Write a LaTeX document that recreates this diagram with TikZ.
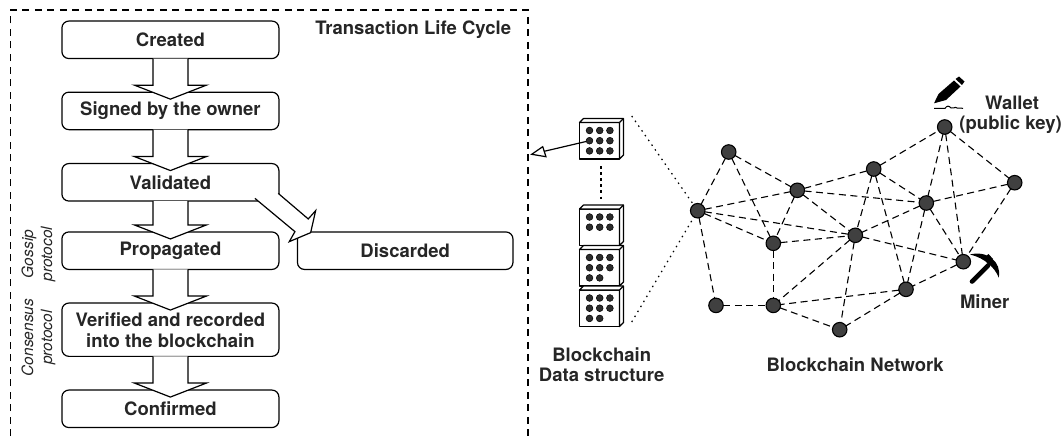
\documentclass[tikz,border=0pt]{standalone}
\usepackage{fontspec}
\setmainfont{TeX Gyre Heros}
\usetikzlibrary{calc}
\definecolor{txt}{HTML}{262626}
\definecolor{nodefill}{HTML}{404040}
\definecolor{dotfill}{HTML}{2c2c2c}
\tikzset{
  lifebox/.style={draw=black,fill=white,line width=1.2pt,rounded corners=7pt,minimum width=217pt,minimum height=37.5pt,inner sep=0pt,outer sep=0pt,font=\bfseries\fontsize{18.5}{21}\selectfont,text=txt,align=center},
  bigarrow/.style={draw=black,fill=white,line width=1.2pt,line join=miter},
  frameline/.style={draw=black,line width=1.1pt,dash pattern=on 7pt off 5.5pt},
  netedge/.style={draw=black,line width=1.1pt,dash pattern=on 7pt off 4.5pt},
  netnode/.style={circle,draw=black,fill=nodefill,line width=1.1pt,minimum size=14.5pt,inner sep=0pt,outer sep=0pt},
  dotline/.style={draw=black,line width=1.2pt,dash pattern=on 1.5pt off 4.3pt},
  label/.style={font=\bfseries\fontsize{18.5}{20}\selectfont,text=txt,align=center,inner sep=0pt},
  proto/.style={font=\itshape\fontsize{15.5}{19}\selectfont,text=txt,align=center,inner sep=0pt,rotate=90},
  blockface/.style={draw=black,fill=white,line width=1.2pt,line join=round},
  blockdot/.style={circle,fill=dotfill,draw=black,line width=.5pt,minimum size=6.8pt,inner sep=0pt,outer sep=0pt},
}
% block: name, left x, top y, number of dots
\newcommand{\chainblock}[4]{%
  \node[blockface,minimum width=40pt,minimum height=36.5pt,inner sep=0pt,outer sep=0pt,anchor=north west] (#1) at (#2,#3) {};
  \draw[blockface] (#1.north west) -- ++(4,-4) -- ++(40,0) -- ++(0,36.5) -- (#1.south east) -- (#1.north east) -- cycle;
  \draw[blockface] (#1.north east) -- ++(4,-4);
  \foreach \i [count=\c from 0] in {1,...,#4}{
    \pgfmathtruncatemacro{\cx}{mod(\c,3)}
    \pgfmathtruncatemacro{\cy}{int(\c/3)}
    \node[blockdot] (#1d\i) at ($(#1.north west)+(10+10.2*\cx,8+10.2*\cy)$) {};
  }
}
% vertical block arrow between two boxes
\newcommand{\flowarrow}[2]{%
  \draw[bigarrow] ($(#1.south)+(-17.5,0)$) -- ($(#2.north)+(-17.5,-7)$) -- ($(#2.north)+(-36,-7)$) -- ($(#2.north)+(0,7)$) -- ($(#2.north)+(36,-7)$) -- ($(#2.north)+(17.5,-7)$) -- ($(#1.south)+(17.5,0)$);
}
\begin{document}
\begin{tikzpicture}[x=1pt,y=-1pt]
\useasboundingbox (0,0) rectangle (1064,436);
\fill[white] (0,0) rectangle (1064,436);

% frame
\coordinate (fbl) at (10.8,436);
\coordinate (ftl) at (10.8,10);
\coordinate (ftr) at (528,10);
\coordinate (fbr) at (528,436);
\draw[frameline] (fbl) -- (ftl) -- (ftr) -- (fbr);

% life cycle boxes
\node[lifebox] (created) at (170.4,39.8) {Created};
\node[lifebox] (signed) at (170.4,110.9) {Signed by the owner};
\node[lifebox] (validated) at (170.4,182.3) {Validated};
\node[lifebox] (propagated) at (170.4,250.7) {Propagated};
\node[lifebox,minimum height=53.3pt] (verified) at (170.4,329.7) {Verified and recorded\\into the blockchain};
\node[lifebox] (confirmed) at (170.4,408.8) {Confirmed};
\node[lifebox,minimum width=215.5pt] (discarded) at (405.2,250.7) {Discarded};

\flowarrow{created}{signed}
\flowarrow{signed}{validated}
\flowarrow{validated}{propagated}
\flowarrow{propagated}{verified}
\flowarrow{verified}{confirmed}
\draw[bigarrow] ($(validated.south east)+(-0.7,-7.7)$) -- ($(discarded.north west)+(10.8,-13)$) -- ($(discarded.north west)+(18.2,-21.3)$) -- ($(discarded.north west)+(13.2,0.7)$) -- ($(discarded.north west)+(-8.2,9.7)$) -- ($(discarded.north west)+(-2.5,-0.3)$) -- ($(validated.south east)+(-24,-2.7)$);

\node[label] (title) at (413.2,29.4) {Transaction Life Cycle};
\node[proto] (gossip) at (38.5,254) {Gossip\\protocol};
\node[proto] (consensus) at (38.5,337.5) {Consensus\\protocol};

% chain
\chainblock{bA}{579.5}{122.5}{9}
\chainblock{bB}{579.5}{209}{6}
\chainblock{bC}{579.5}{249.5}{8}
\chainblock{bD}{579.5}{290}{8}

\coordinate (vdA) at (601,166);
\coordinate (vdB) at (601,200);
\draw[black,line width=2.6pt,dash pattern=on 2.5pt off 3.6pt] (vdA) -- (vdB);

\coordinate (frameIn) at (531.7,154.3);
\coordinate (hA) at (546,156.7);
\coordinate (hB) at (542.7,146.7);
\coordinate (hM) at (543.8,151.4);
\draw[black,line width=1.2pt] (bAd4) -- (hM);
\draw[bigarrow] (frameIn) -- (hA) -- (hB) -- cycle;

\node[label] (chainlabel) at (601.7,365) {Blockchain\\Data structure};

% network
\node[netnode] (nA) at (728.7,152) {};
\node[netnode] (nB) at (697.7,210.7) {};
\node[netnode] (nC) at (797.3,190.3) {};
\node[netnode] (nD) at (873.7,169) {};
\node[netnode] (nE) at (944.7,127) {};
\node[netnode] (nF) at (1014.7,182.7) {};
\node[netnode] (nG) at (926.3,203) {};
\node[netnode] (nH) at (773.3,243.3) {};
\node[netnode] (nI) at (855.3,235.3) {};
\node[netnode] (nJ) at (963.3,261.7) {};
\node[netnode] (nK) at (906,289.3) {};
\node[netnode] (nL) at (716,305.4) {};
\node[netnode] (nM) at (773.3,305.4) {};
\node[netnode] (nN) at (839.7,329.7) {};

\foreach \a/\b in {nA/nB,nA/nC,nA/nH,nB/nC,nB/nI,nB/nH,nB/nL,nC/nD,nC/nG,nC/nH,nC/nI,nD/nE,nD/nG,nD/nI,nD/nK,nE/nG,nE/nJ,nE/nF,nF/nG,nF/nJ,nG/nI,nG/nJ,nG/nK,nH/nI,nH/nM,nI/nJ,nI/nM,nI/nN,nJ/nK,nK/nM,nK/nN,nL/nM,nM/nN}
  \draw[netedge] (\a) -- (\b);

\coordinate (dotTop) at (631.7,116);
\coordinate (dotBot) at (631.7,322);
\draw[dotline] (dotTop) -- (nB);
\draw[dotline] (dotBot) -- (nB);

\node[label] (netlabel) at (855,365) {Blockchain Network};
\node[label] (wallet) at (1012,102.7) {Wallet};
\node[label] (pubkey) at (1010.6,125) {(public key)};
\node[label] (miner) at (984.7,301.7) {Miner};

% pen icon
\fill[black] (934,103.3) -- (938.5,94) -- (954,80.5) -- (960.5,86.5) -- (946,100) -- cycle;
\fill[black] (955.5,79) -- (959,76.5) -- (964.5,81.5) -- (962,85) -- cycle;
\draw[black,line width=1pt] (934,108.3) -- (945,108.3) .. controls (947,105.5) and (949,105.5) .. (951,108) .. controls (953,109.5) and (955,106) .. (957,108) -- (963,108.3);

% pickaxe icon
\draw[black,line width=4.6pt,line cap=round] (972,281.5) -- (988,265.5);
\fill[black] (970,254.5) .. controls (987,250) and (1002,262) .. (998.7,277.5) .. controls (995,268) and (985,258) .. (970,254.5) -- cycle;
\fill[black] (984,258) -- (988.5,254) -- (993,259) -- (988,264.5) -- cycle;
\end{tikzpicture}
\end{document}
